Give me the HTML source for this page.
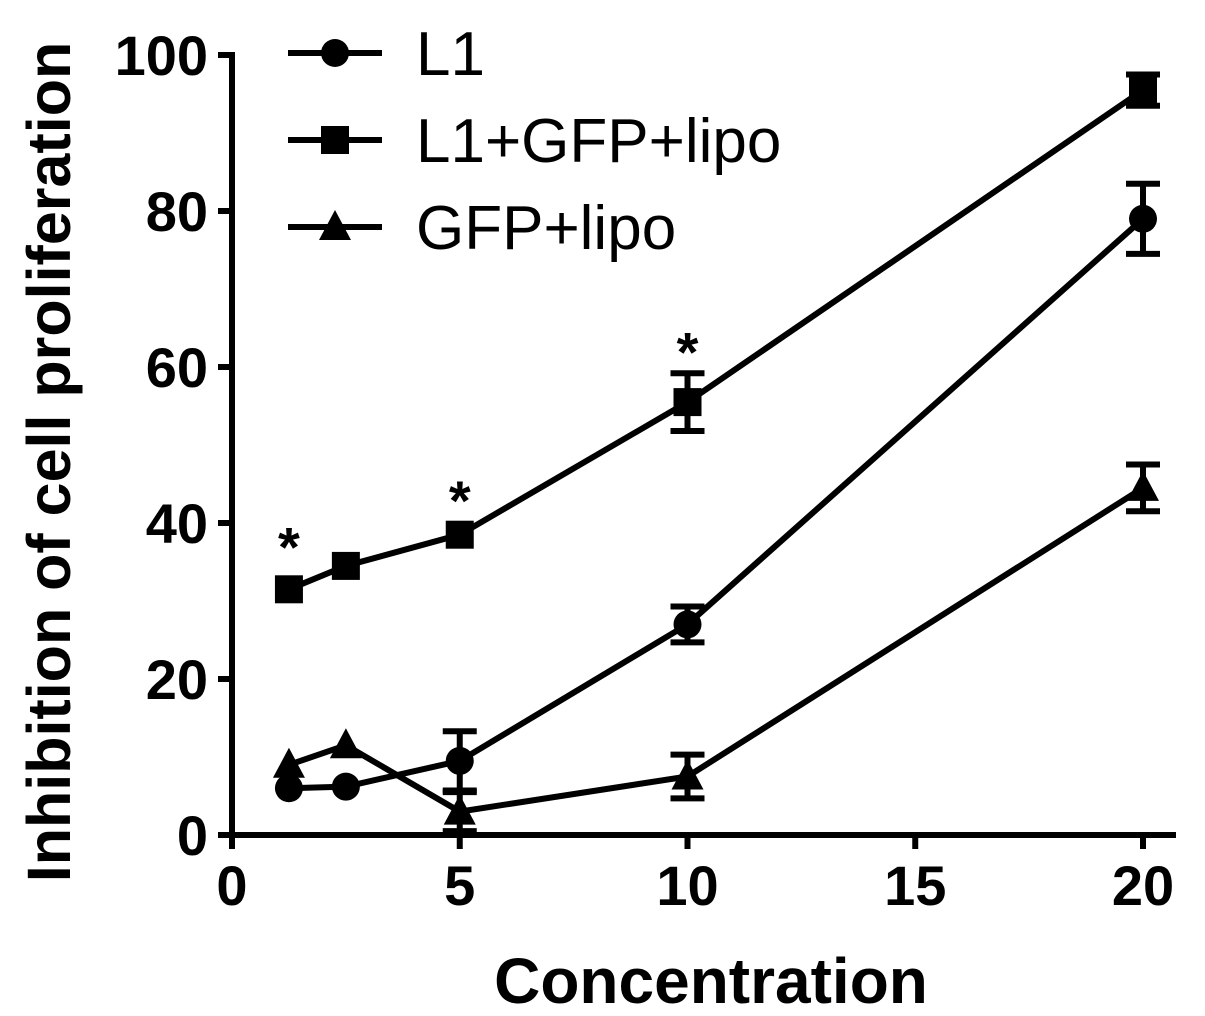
<!DOCTYPE html>
<html><head><meta charset="utf-8"><style>
html,body{margin:0;padding:0;background:#fff;}
svg{display:block;font-family:"Liberation Sans",Arial,sans-serif;}
</style></head><body>
<svg id="chart" width="1205" height="1016" viewBox="0 0 1205 1016"></svg>
<script>
const xValues=[1.25,2.5,5,10,20];
const seriesNames=["L1","L1+GFP+lipo","GFP+lipo"];
const l1Values=[6,6.2,9.5,27,79];
const l1Errors=[1,0.8,3.8,2.3,4.5];
const l1gfpValues=[31.5,34.5,38.5,55.5,95.5];
const l1gfpErrors=[1,1,1,3.7,2];
const gfpValues=[9,11.5,3,7.5,44.5];
const gfpErrors=[0.8,0.8,2.5,2.8,3];
const xTicks=[0,5,10,15,20];
const yTicks=[0,20,40,60,80,100];
const starX=[1.25,5,10];
const starY=[38.5,44.5,63.5];

const NS="http://www.w3.org/2000/svg";
const svg=document.getElementById('chart');
const X=v=>232+v*45.55;
const Y=v=>835-v*7.8;
function mk(t,a,p){const e=document.createElementNS(NS,t);for(const k in a)e.setAttribute(k,a[k]);(p||svg).appendChild(e);return e;}

let ax=mk('g',{});


mk('line',{x1:X(0),y1:Y(100)-3,x2:X(0),y2:Y(0)+3,stroke:'#000','stroke-width':6},ax);
mk('line',{x1:X(0)-3,y1:Y(0),x2:1176,y2:Y(0),stroke:'#000','stroke-width':6},ax);
yTicks.forEach(v=>{
  mk('line',{x1:X(0)-14,y1:Y(v),x2:X(0),y2:Y(v),stroke:'#000','stroke-width':6},ax);
  const t=mk('text',{x:X(0)-24,y:Y(v)+20,'text-anchor':'end','font-size':56,'font-weight':'bold'},ax);
  t.textContent=v;
  
  
});
xTicks.forEach(v=>{
  mk('line',{x1:X(v),y1:Y(0),x2:X(v),y2:Y(0)+14,stroke:'#000','stroke-width':6},ax);
  const t=mk('text',{x:X(v),y:Y(0)+70,'text-anchor':'middle','font-size':56,'font-weight':'bold'},ax);
  t.textContent=v;
  
  
});
let xt=mk('text',{x:711,y:1003,'text-anchor':'middle','font-size':64,'font-weight':'bold'});
xt.textContent='Concentration';


let yt=mk('text',{x:0,y:0,transform:'translate(70,462) rotate(-90)','text-anchor':'middle','font-size':61,'font-weight':'bold'});
yt.textContent='Inhibition of cell proliferation';



function marker(shape,cx,cy,g){
  if(shape==='circle')mk('circle',{cx,cy,r:14,fill:'#000'},g);
  else if(shape==='square')mk('rect',{x:cx-14,y:cy-14,width:28,height:28,fill:'#000'},g);
  else mk('polygon',{points:`${cx},${cy-17} ${cx+16},${cy+13} ${cx-16},${cy+13}`,fill:'#000'},g);
}
function series(vals,errs,shape,name){
  const g=mk('g',{});
  
  
  mk('polyline',{points:vals.map((v,i)=>X(xValues[i])+','+Y(v)).join(' '),fill:'none',stroke:'#000','stroke-width':6},g);
  vals.forEach((v,i)=>{
    const x=X(xValues[i]),e=errs[i];
    if(e>1.5){
      mk('line',{x1:x,y1:Y(v+e),x2:x,y2:Y(v-e),stroke:'#000','stroke-width':6},g);
      mk('line',{x1:x-17,y1:Y(v+e),x2:x+17,y2:Y(v+e),stroke:'#000','stroke-width':6},g);
      mk('line',{x1:x-17,y1:Y(v-e),x2:x+17,y2:Y(v-e),stroke:'#000','stroke-width':6},g);
    }
    marker(shape,x,Y(v),g);
  });
}
series(gfpValues,gfpErrors,'triangle','series-gfp-lipo');
series(l1Values,l1Errors,'circle','series-l1');
series(l1gfpValues,l1gfpErrors,'square','series-l1-gfp-lipo');

starX.forEach((v,i)=>{
  const t=mk('text',{x:X(v),y:Y(starY[i])+32,'text-anchor':'middle','font-size':56,'font-weight':'bold'});
  t.textContent='*';
  
  
});

const shapes=['circle','square','triangle'];
seriesNames.forEach((n,i)=>{
  const g=mk('g',{});
  
  
  const y=53+i*87;
  mk('line',{x1:288,y1:y,x2:382,y2:y,stroke:'#000','stroke-width':6},g);
  marker(shapes[i],335,y,g);
  const t=mk('text',{x:416,y:y+22,'font-size':62},g);
  t.textContent=n;
});
</script>
</body></html>
